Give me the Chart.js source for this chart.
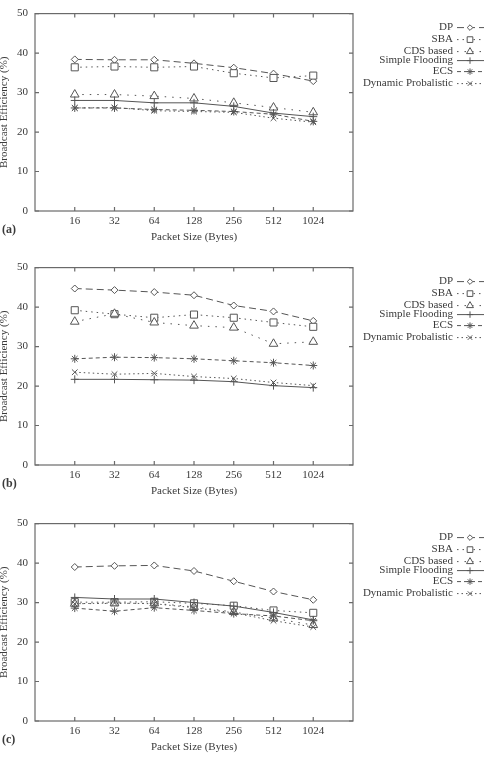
<!DOCTYPE html>
<html>
<head>
<meta charset="utf-8">
<script src="https://cdn.jsdelivr.net/npm/chart.js@4/dist/chart.umd.min.js"></script>
<style>
  html, body { margin: 0; padding: 0; background: #fff; }
  #wrap { position: relative; width: 492px; height: 761px; overflow: hidden; }
  .panel { position: absolute; left: 0; width: 492px; height: 251px; }
</style>
</head>
<body>
<div id="wrap">
  <div class="panel" style="top:0"><canvas id="chartA"></canvas></div>
  <div class="panel" style="top:254px"><canvas id="chartB"></canvas></div>
  <div class="panel" style="top:510px"><canvas id="chartC"></canvas></div>
</div>
<script>
// packet sizes on the x axis
const sizeLabels = ['16', '32', '64', '128', '256', '512', '1024'];
const seriesNames = ['DP', 'SBA', 'CDS based', 'Simple Flooding', 'ECS', 'Dynamic Probalistic'];
const yTicks = [0, 10, 20, 30, 40, 50];
const panelLetters = ['(a)', '(b)', '(c)'];

// panel (a)
const dpA  = [38.4, 38.3, 38.3, 37.4, 36.3, 34.8, 32.9];
const sbaA = [36.4, 36.6, 36.4, 36.6, 34.9, 33.7, 34.3];
const cdsA = [29.5, 29.5, 29.1, 28.5, 27.4, 26.2, 25.0];
const sfA  = [28.0, 28.0, 27.4, 27.4, 26.5, 24.8, 23.9];
const ecsA = [26.1, 26.1, 25.7, 25.5, 25.2, 24.5, 22.7];
const dynA = [26.1, 26.2, 25.4, 25.2, 25.0, 23.5, 22.5];

// panel (b)
const dpB  = [44.7, 44.3, 43.8, 43.0, 40.4, 38.9, 36.5];
const sbaB = [39.2, 38.2, 37.3, 38.1, 37.3, 36.1, 35.0];
const cdsB = [36.3, 38.3, 36.1, 35.3, 34.8, 30.7, 31.2];
const sfB  = [21.7, 21.7, 21.6, 21.5, 21.1, 20.1, 19.6];
const ecsB = [26.9, 27.3, 27.2, 26.9, 26.4, 25.9, 25.2];
const dynB = [23.5, 23.0, 23.2, 22.4, 21.9, 20.9, 20.1];

// panel (c)
const dpC  = [39.0, 39.3, 39.4, 38.0, 35.4, 32.8, 30.7];
const sbaC = [30.1, 30.1, 30.2, 29.8, 29.2, 28.0, 27.4];
const cdsC = [29.7, 29.8, 29.8, 28.9, 27.6, 26.0, 24.3];
const sfC  = [31.3, 30.9, 30.9, 30.0, 29.1, 27.5, 25.6];
const ecsC = [28.6, 27.8, 28.7, 28.0, 27.2, 26.6, 25.4];
const dynC = [29.7, 29.9, 29.7, 28.7, 27.4, 25.4, 23.8];

const serif = '"Liberation Serif", "DejaVu Serif", serif';
const ink = '#3a3a3a';
const lineColor = '#555';

// gnuplot-like line/point styles, one per series
const styles = [
  { dash: [7, 4],   point: 'rectRot',  r: 3.5 },
  { dash: [1.5, 4], point: 'rect',     r: 5 },
  { dash: [1.5, 6], point: 'triangle', r: 5 },
  { dash: [],       point: 'cross',    r: 4 },
  { dash: [4, 3],   point: 'star',     r: 4 },
  { dash: [1.5, 3], point: 'crossRot', r: 4 }
];

function makeDatasets(seriesList) {
  return seriesList.map((vals, i) => ({
    label: seriesNames[i],
    data: vals.map((v, k) => ({ x: k, y: v })),
    borderColor: lineColor,
    borderWidth: 1,
    borderDash: styles[i].dash,
    pointStyle: styles[i].point,
    pointRadius: styles[i].r,
    pointBorderWidth: 1,
    pointBorderColor: lineColor,
    pointBackgroundColor: '#fff',
    fill: false,
    tension: 0,
    order: seriesList.length - i
  }));
}

// frame, inward ticks, legend and panel letter
const legendOffsets = [14, 26, 38, 47, 58, 70];
const framePlugin = {
  id: 'frame',
  afterDraw(chart) {
    const ctx = chart.ctx;
    const a = chart.chartArea;
    const xs = chart.scales.x, ys = chart.scales.y;
    ctx.save();
    ctx.strokeStyle = '#6a6a6a';
    ctx.lineWidth = 1.2;
    ctx.setLineDash([]);
    ctx.strokeRect(a.left, a.top, a.right - a.left, a.bottom - a.top);
    ctx.beginPath();
    yTicks.forEach(v => {
      const y = ys.getPixelForValue(v);
      ctx.moveTo(a.left, y); ctx.lineTo(a.left + 4, y);
      ctx.moveTo(a.right, y); ctx.lineTo(a.right - 4, y);
    });
    sizeLabels.forEach((_, k) => {
      const x = xs.getPixelForValue(k);
      ctx.moveTo(x, a.bottom); ctx.lineTo(x, a.bottom - 4);
      ctx.moveTo(x, a.top); ctx.lineTo(x, a.top + 4);
    });
    ctx.stroke();

    // legend
    ctx.font = '11px ' + serif;
    ctx.fillStyle = ink;
    ctx.textAlign = 'right';
    ctx.textBaseline = 'middle';
    chart.data.datasets.forEach((ds, i) => {
      const y = a.top + legendOffsets[i];
      ctx.fillText(ds.label, 453, y);
      ctx.strokeStyle = lineColor;
      ctx.lineWidth = 1;
      ctx.setLineDash(ds.borderDash);
      ctx.beginPath();
      ctx.moveTo(457, y); ctx.lineTo(484, y);
      ctx.stroke();
      ctx.setLineDash([]);
      ctx.fillStyle = '#fff';
      Chart.helpers.drawPoint(ctx, { pointStyle: ds.pointStyle, radius: ds.pointRadius * 0.8, borderWidth: 1 }, 470, y);
      ctx.fillStyle = ink;
    });

    // panel letter
    ctx.font = 'bold 12px ' + serif;
    ctx.textAlign = 'left';
    ctx.fillText(chart.options.plugins.frame.letter, 2, a.bottom + 19);
    ctx.restore();
  }
};

function makeChart(id, seriesList, letter) {
  const ctx = document.getElementById(id).getContext('2d');
  return new Chart(ctx, {
    type: 'line',
    data: { datasets: makeDatasets(seriesList) },
    options: {
      responsive: true,
      maintainAspectRatio: false,
      animation: false,
      layout: { padding: { top: 7, right: 139, left: 0, bottom: 0 } },
      plugins: {
        legend: { display: false },
        tooltip: { enabled: false },
        frame: { letter: letter }
      },
      scales: {
        x: {
          type: 'linear',
          min: -1,
          max: 7,
          afterFit: s => { s.height = 40; },
          afterBuildTicks: s => { s.ticks = sizeLabels.map((_, k) => ({ value: k })); },
          grid: { display: false, drawTicks: false },
          border: { display: false },
          ticks: {
            padding: 4,
            color: ink,
            font: { family: serif, size: 11 },
            callback: v => sizeLabels[v] || ''
          },
          title: {
            display: true,
            text: 'Packet Size (Bytes)',
            color: ink,
            font: { family: serif, size: 11 },
            padding: { top: 0, bottom: 7 }
          }
        },
        y: {
          min: 0,
          max: 50,
          afterFit: s => { s.width = 35; },
          afterBuildTicks: s => { s.ticks = yTicks.map(v => ({ value: v })); },
          grid: { display: false, drawTicks: false },
          border: { display: false },
          ticks: {
            padding: 7,
            color: ink,
            font: { family: serif, size: 11 }
          },
          title: {
            display: true,
            text: 'Broadcast Efficiency (%)',
            color: ink,
            font: { family: serif, size: 11, lineHeight: 0.75 },
            padding: 0
          }
        }
      }
    },
    plugins: [framePlugin]
  });
}

makeChart('chartA', [dpA, sbaA, cdsA, sfA, ecsA, dynA], panelLetters[0]);
makeChart('chartB', [dpB, sbaB, cdsB, sfB, ecsB, dynB], panelLetters[1]);
makeChart('chartC', [dpC, sbaC, cdsC, sfC, ecsC, dynC], panelLetters[2]);
</script>
</body>
</html>
